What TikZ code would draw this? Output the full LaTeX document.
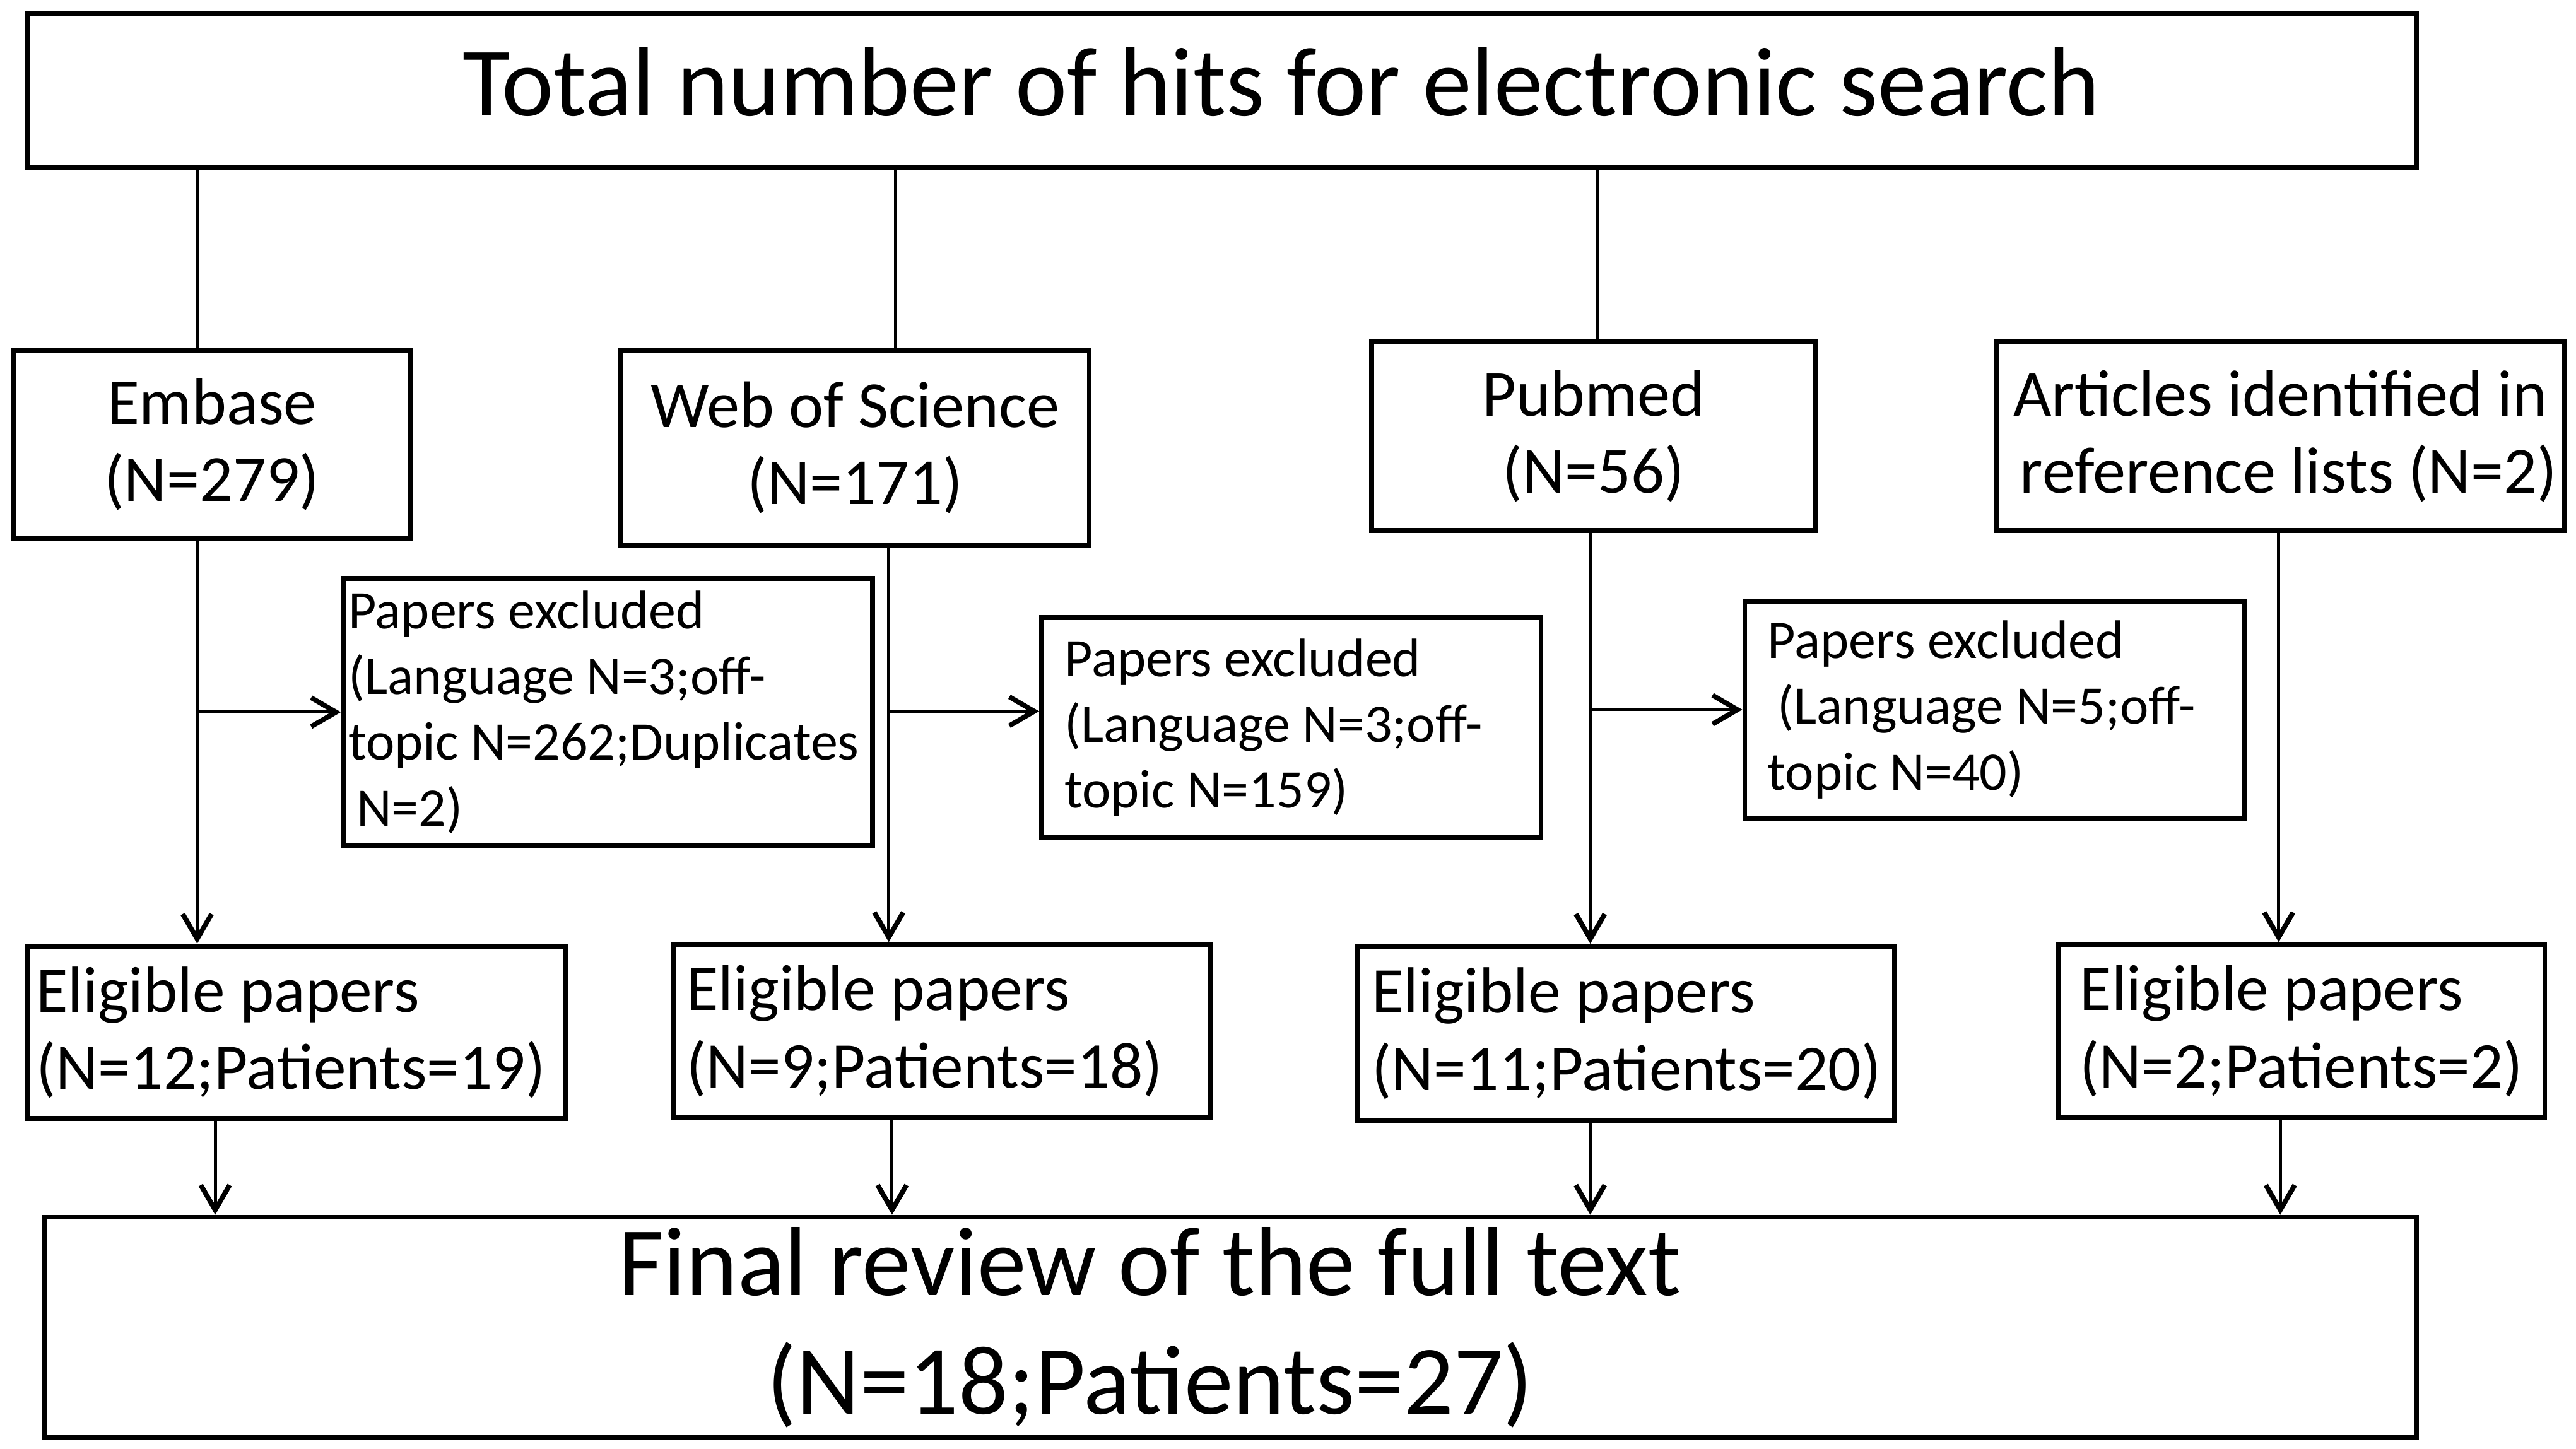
\documentclass[tikz,border=0pt]{standalone}
\usepackage{fontspec}
\setmainfont{Carlito}
\usetikzlibrary{positioning}
\usetikzlibrary{arrows.meta}
\tikzset{
    bigbox/.style = {rectangle, line width=0.85pt, draw=black, inner sep=0pt},
    dbbox/.style = {rectangle, line width=0.85pt, draw=black, align=center, inner sep=0pt, font=\fontsize{11.4pt}{13.4pt}\selectfont},
    exclbox/.style = {rectangle, line width=0.85pt, draw=black, align=flush left, inner ysep=0pt, font=\fontsize{9.4pt}{11.4pt}\selectfont},
    eligbox/.style = {rectangle, line width=0.85pt, draw=black, align=flush left, inner ysep=0pt, font=\fontsize{11.3pt}{13.4pt}\selectfont},
    bigtext/.style = {align=center, font=\fontsize{17pt}{20.5pt}\selectfont},
    edgel/.style = {line width=0.55pt}, % plain
    edgen/.style = {-{Straight Barb[length=4.3pt,width=5pt,line width=0.85pt]},line width=0.55pt}
}
\begin{document}
\begin{tikzpicture}
\useasboundingbox (0,0) rectangle (15.68,-8.82);
%
\node[bigbox, minimum width=14.54cm, minimum height=0.94cm,
      label={[bigtext, xshift=0.36cm, yshift=0.05cm]center:Total number of hits for electronic search}] at (7.44, -0.55) (total) {};
%
\node[dbbox, minimum width=2.42cm, minimum height=1.15cm] at (1.29, -2.705) (embase) {Embase\\(N=279)};
\node[dbbox, minimum width=2.85cm, minimum height=1.19cm] at (5.205, -2.725) (wos) {Web of Science\\(N=171)};
\node[dbbox, minimum width=2.70cm, minimum height=1.15cm] at (9.70, -2.655) (pubmed) {Pubmed\\(N=56)};
\node[dbbox, minimum width=3.46cm, minimum height=1.15cm] at (13.88, -2.655) (refs) {Articles identified in\\ \hspace*{0.1cm}reference lists (N=2)};
%
\node[exclbox, inner xsep=0.03cm, text width=3.16cm, minimum height=1.63cm] at (3.70, -4.335) (exclA) {Papers excluded\\(Language N=3;off-\\topic N=262;Duplicates\\ \hspace*{0.05cm}N=2)};
\node[exclbox, inner xsep=0.14cm, text width=2.76cm, minimum height=1.34cm] at (7.86, -4.43) (exclB) {Papers excluded\\(Language N=3;off-\\topic N=159)};
\node[exclbox, inner xsep=0.14cm, text width=2.76cm, minimum height=1.32cm] at (12.14, -4.32) (exclC) {Papers excluded\\ \hspace*{0.06cm}(Language N=5;off-\\topic N=40)};
%
\node[eligbox, inner xsep=0.05cm, text width=3.17cm, minimum height=1.05cm] at (1.805, -6.285) (eligA) {Eligible papers\\(N=12;Patients=19)};
\node[eligbox, inner xsep=0.08cm, text width=3.11cm, minimum height=1.05cm] at (5.735, -6.275) (eligB) {Eligible papers\\(N=9;Patients=18)};
\node[eligbox, inner xsep=0.09cm, text width=3.09cm, minimum height=1.06cm] at (9.895, -6.29) (eligC) {Eligible papers\\(N=11;Patients=20)};
\node[eligbox, inner xsep=0.13cm, text width=2.70cm, minimum height=1.05cm] at (14.01, -6.275) (eligD) {Eligible papers\\(N=2;Patients=2)};
%
\node[bigbox, minimum width=14.44cm, minimum height=1.34cm,
      label={[bigtext, xshift=-0.49cm]center:Final review of the full text\\ (N=18;Patients=27)}] at (7.49, -8.08) (final) {};
%
\draw[edgel] ([xshift=-0.09cm]embase.north |- total.south) -- ([xshift=-0.09cm]embase.north);
\draw[edgel] ([xshift=0.245cm]wos.north |- total.south) -- ([xshift=0.245cm]wos.north);
\draw[edgel] ([xshift=0.02cm]pubmed.north |- total.south) -- ([xshift=0.02cm]pubmed.north);
%
\draw[edgen] ([xshift=-0.09cm]embase.south) -- ([xshift=-0.09cm]embase.south |- eligA.north);
\draw[edgen] ([xshift=0.205cm]wos.south) -- ([xshift=0.205cm]wos.south |- eligB.north);
\draw[edgen] ([xshift=-0.02cm]pubmed.south) -- ([xshift=-0.02cm]pubmed.south |- eligC.north);
\draw[edgen] ([xshift=-0.01cm]refs.south) -- ([xshift=-0.01cm]refs.south |- eligD.north);
%
\draw[edgen] ([xshift=-0.09cm]embase.south |- exclA.west) -- (exclA.west);
\draw[edgen] ([xshift=0.205cm,yshift=0.1cm]wos.south |- exclB.west) -- ([yshift=0.1cm]exclB.west);
\draw[edgen] ([xshift=-0.02cm]pubmed.south |- exclC.west) -- (exclC.west);
%
\draw[edgen] ([xshift=-0.495cm]eligA.south) -- ([xshift=-0.495cm]eligA.south |- final.north);
\draw[edgen] ([xshift=-0.305cm]eligB.south) -- ([xshift=-0.305cm]eligB.south |- final.north);
\draw[edgen] ([xshift=-0.215cm]eligC.south) -- ([xshift=-0.215cm]eligC.south |- final.north);
\draw[edgen] ([xshift=-0.13cm]eligD.south) -- ([xshift=-0.13cm]eligD.south |- final.north);

\end{tikzpicture}
\end{document}
